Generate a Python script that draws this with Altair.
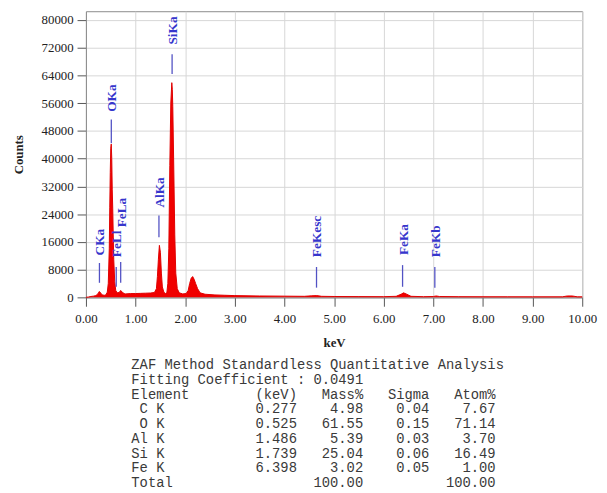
import altair as alt
import pandas as pd

# ---- spectrum (keV, counts) ----
energy = [0.00, 0.05, 0.10, 0.15, 0.20, 0.24, 0.27, 0.30, 0.33, 0.37, 0.40, 0.43, 0.45, 0.47, 0.48,
          0.49, 0.50, 0.51, 0.52, 0.53, 0.54, 0.55, 0.56, 0.58, 0.60, 0.63, 0.67, 0.70, 0.73, 0.77,
          0.80, 0.90, 1.00, 1.10, 1.20, 1.30, 1.38, 1.42, 1.44, 1.46, 1.48, 1.50, 1.52, 1.54, 1.57,
          1.60, 1.63, 1.65, 1.67, 1.69, 1.71, 1.73, 1.74, 1.75, 1.77, 1.79, 1.81, 1.84, 1.88, 1.95,
          2.02, 2.06, 2.09, 2.12, 2.15, 2.18, 2.21, 2.25, 2.30, 2.40, 2.60, 2.80, 3.00, 3.50, 4.00,
          4.40, 4.55, 4.65, 4.75, 5.00, 5.50, 6.00, 6.25, 6.35, 6.40, 6.45, 6.55, 6.80, 7.00, 7.06,
          7.12, 7.50, 8.00, 8.50, 9.00, 9.60, 9.70, 9.80, 9.90, 10.00]
counts = [0, 100, 250, 350, 500, 1000, 1700, 1200, 700, 600, 700, 1500, 4000, 14000, 26000,
          36000, 43000, 44200, 40000, 31000, 25500, 18000, 11000, 4500, 2000, 1300, 1400, 2000, 1500, 1100,
          1000, 1100, 1100, 1150, 1200, 1250, 1400, 2500, 6000, 11000, 15000, 13000, 7000, 3000, 1500,
          1100, 1300, 4000, 14000, 38000, 56000, 61900, 60000, 55000, 37000, 18000, 7000, 2500, 1300, 1000,
          1100, 2000, 4000, 5500, 6000, 5200, 4000, 2500, 1300, 900, 700, 600, 500, 400, 350,
          300, 450, 500, 300, 250, 220, 200, 300, 900, 1300, 1000, 300, 200, 250, 400,
          250, 200, 180, 170, 160, 160, 400, 400, 160, 150]

# ---- peak markers ----
marker_names = ["CKa", "OKa", "FeLl", "FeLa", "AlKa", "SiKa", "FeKesc", "FeKa", "FeKb"]
marker_kev = [0.272, 0.511, 0.61, 0.70, 1.471, 1.736, 4.646, 6.38, 7.03]
marker_low = [4200, 44400, 3050, 4200, 17300, 64400, 2800, 3050, 2800]
marker_high = [9900, 51300, 8760, 10200, 23600, 70100, 8760, 9300, 8760]
marker_label_at = [12100, 53500, 11600, 20200, 25900, 72900, 11600, 12200, 11600]

# ---- quantitative table ----
table_title = "ZAF Method Standardless Quantitative Analysis"
fit_line = "Fitting Coefficient : 0.0491"
col_heads = ["Element", "(keV)", "Mass%", "Sigma", "Atom%"]
elements = [" C K", " O K", "Al K", "Si K", "Fe K"]
el_kev = ["0.277", "0.525", "1.486", "1.739", "6.398"]
mass_pct = ["4.98", "61.55", "5.39", "25.04", "3.02"]
sigma = ["0.04", "0.15", "0.03", "0.06", "0.05"]
atom_pct = ["7.67", "71.14", "3.70", "16.49", "1.00"]
total_mass = "100.00"
total_atom = "100.00"

x_ticks = [float(i) for i in range(0, 11)]
y_ticks = list(range(0, 80001, 8000))


def row(a, b, c, d, e):
    return f"{a:<7}{b:>13}{c:>8}{d:>8}{e:>8}"


lines = [table_title, fit_line, row(*col_heads)]
for i in range(len(elements)):
    lines.append(row(elements[i], el_kev[i], mass_pct[i], sigma[i], atom_pct[i]))
lines.append(row("Total", "", total_mass, "", total_atom))
# non-breaking spaces keep the monospace columns; a zero-width lead char keeps leading blanks
lines = ["\u200b" + ln.rstrip().replace(" ", "\u00a0") for ln in lines]

spec = pd.DataFrame({"keV": energy, "Counts": counts})
marks = pd.DataFrame({"name": marker_names, "keV": marker_kev, "lo": marker_low,
                      "hi": marker_high, "lab": marker_label_at})

xscale = alt.Scale(domain=[0, 10], nice=False, zero=False)
yscale = alt.Scale(domain=[0, 82500], nice=False)

serif = "Liberation Serif"

area = alt.Chart(spec).mark_area(color="#f00000", opacity=1, line={"color": "#e00000", "strokeWidth": 1}).encode(
    x=alt.X("keV:Q", scale=xscale,
            axis=alt.Axis(values=x_ticks, format=".2f", title="keV", grid=True, tickCount=20)),
    y=alt.Y("Counts:Q", scale=yscale,
            axis=alt.Axis(values=y_ticks, format="d", title="Counts", grid=True, tickCount=20,
                          labelOverlap=False)),
)

rules = alt.Chart(marks).mark_rule(color="#5252c4", strokeWidth=1.3).encode(
    x="keV:Q", y="lo:Q", y2="hi:Q"
)

labels = alt.Chart(marks).mark_text(
    angle=270, align="left", baseline="middle", font=serif, fontSize=13.5,
    fontWeight="bold", color="#3636cc", dy=1
).encode(x="keV:Q", y="lab:Q", text="name:N")

chart = alt.layer(area, rules, labels).properties(
    width=503, height=290,
    autosize=alt.AutoSizeParams(type="none"),
    padding={"left": 79, "top": 0, "right": 17, "bottom": 194},
    title=alt.TitleParams(
        text=lines, orient="bottom", anchor="start", frame="group", dx=46, offset=9,
        font="Liberation Mono", fontSize=14, fontWeight="normal", color="#3a3a3a",
        lineHeight=14.9, baseline="top",
    ),
).configure_view(
    stroke="#8a8a8a", strokeWidth=1
).configure_axis(
    gridColor="#d6d6d6", gridWidth=1, domainColor="#8a8a8a", tickColor="#555555",
    tickSize=9, labelFont=serif, labelFontSize=13, labelColor="#222222",
    titleFont=serif, titleFontSize=13, titleFontWeight="bold", titleColor="#222222",
    labelOverlap=False, labelFlush=False,
).configure_axisX(
    labelPadding=6, titlePadding=12,
).configure_axisY(
    labelPadding=4, titlePadding=16,
)

chart.save("out.html", embed_options={"renderer": "svg", "actions": False})
